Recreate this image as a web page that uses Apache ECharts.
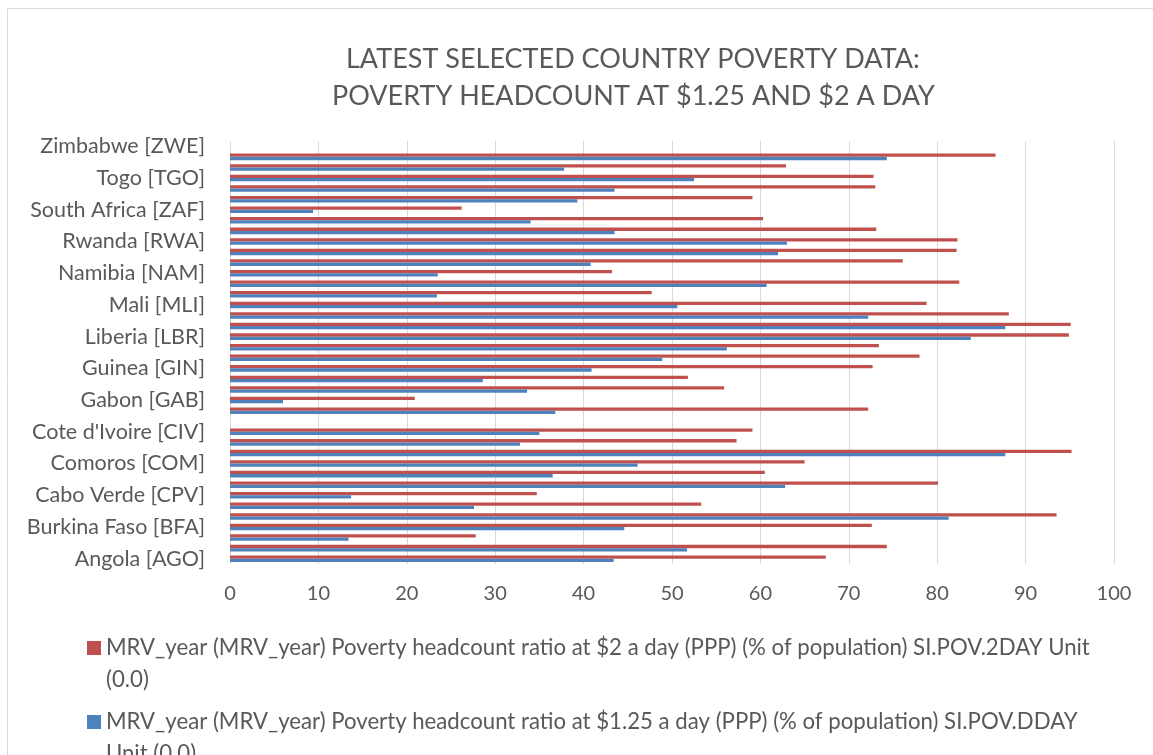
<!DOCTYPE html>
<html>
<head>
<meta charset="utf-8">
<script src="https://cdn.jsdelivr.net/npm/echarts@6/dist/echarts.min.js"></script>
<style>
html,body{margin:0;padding:0;background:#fff;}
#chart{width:1153px;height:755px;}
</style>
</head>
<body>
<div id="chart"></div>
<script>
var categories = [
  "Angola [AGO]", "Benin [BEN]", "Botswana [BWA]", "Burkina Faso [BFA]", "Burundi [BDI]",
  "Cameroon [CMR]", "Cabo Verde [CPV]", "Central African Republic [CAF]", "Chad [TCD]", "Comoros [COM]",
  "Congo, Dem. Rep. [COD]", "Congo, Rep. [COG]", "Cote d'Ivoire [CIV]", "Eritrea [ERI]", "Ethiopia [ETH]",
  "Gabon [GAB]", "Gambia, The [GMB]", "Ghana [GHA]", "Guinea [GIN]", "Guinea-Bissau [GNB]",
  "Lesotho [LSO]", "Liberia [LBR]", "Madagascar [MDG]", "Malawi [MWI]", "Mali [MLI]",
  "Mauritania [MRT]", "Mozambique [MOZ]", "Namibia [NAM]", "Niger [NER]", "Nigeria [NGA]",
  "Rwanda [RWA]", "Sao Tome and Principe [STP]", "Senegal [SEN]", "South Africa [ZAF]", "Swaziland [SWZ]",
  "Tanzania [TZA]", "Togo [TGO]", "Uganda [UGA]", "Zambia [ZMB]", "Zimbabwe [ZWE]"
];
var pov2day = [
  67.4, 74.3, 27.8, 72.6, 93.5,
  53.3, 34.7, 80.1, 60.5, 65.0,
  95.2, 57.3, 59.1, null, 72.2,
  20.9, 55.9, 51.8, 72.7, 78.0,
  73.4, 94.9, 95.1, 88.1, 78.8,
  47.7, 82.5, 43.2, 76.1, 82.2,
  82.3, 73.1, 60.3, 26.2, 59.1,
  73.0, 72.8, 62.9, 86.6, null
];
var pov125 = [
  43.4, 51.7, 13.4, 44.6, 81.3,
  27.6, 13.7, 62.8, 36.5, 46.1,
  87.7, 32.8, 35.0, null, 36.8,
  6.0, 33.6, 28.6, 40.9, 48.9,
  56.2, 83.8, 87.7, 72.2, 50.6,
  23.4, 60.7, 23.5, 40.8, 62.0,
  63.0, 43.5, 34.0, 9.4, 39.3,
  43.5, 52.5, 37.8, 74.3, null
];
var seriesNames = [
  "MRV_year (MRV_year) Poverty headcount ratio at $2 a day (PPP) (% of population) SI.POV.2DAY Unit (0.0)",
  "MRV_year (MRV_year) Poverty headcount ratio at $1.25 a day (PPP) (% of population) SI.POV.DDAY Unit (0.0)"
];
var xTicks = [0, 10, 20, 30, 40, 50, 60, 70, 80, 90, 100];
var titleLines = ["LATEST SELECTED COUNTRY POVERTY DATA:", "POVERTY HEADCOUNT AT $1.25 AND $2 A DAY"];

var FONT = "Lato";
var TITLE_SIZE = 27;
var TITLE_WEIGHT = 'normal';
var TITLE_CENTER_X = 633;

// measure each title line so it can be centred on the reference position
var mctx = document.createElement('canvas').getContext('2d');
mctx.font = TITLE_WEIGHT + ' ' + TITLE_SIZE + 'px ' + FONT;
function titleLeft(t) { return Math.round(TITLE_CENTER_X - mctx.measureText(t).width / 2); }
var titleStyle = {fontFamily: FONT, fontSize: TITLE_SIZE, fontWeight: TITLE_WEIGHT, color: '#595959', lineHeight: 37};

var chart = echarts.init(document.getElementById('chart'), null, {renderer: 'canvas'});
var legendIcon = 'path://M0,0L14,0L14,14L0,14Z M0,46L0.01,46';
function legendFmt(name) {
  if (name.indexOf('2DAY') >= 0) return name.replace(' (0.0)', '\n(0.0)');
  return name.replace(' Unit (0.0)', '\nUnit (0.0)');
}
var legendText = {fontFamily: FONT, fontSize: 22.2, color: '#595959', lineHeight: 32};
chart.setOption({
  animation: false,
  backgroundColor: '#ffffff',
  title: [{
    text: titleLines[0], left: titleLeft(titleLines[0]), top: 41, padding: 0, textStyle: titleStyle
  }, {
    text: titleLines[1], left: titleLeft(titleLines[1]), top: 78, padding: 0, textStyle: titleStyle
  }],
  graphic: [{
    type: 'rect',
    shape: {x: 7.5, y: 8.5, width: 1200, height: 800},
    style: {fill: 'none', stroke: '#d9d9d9', lineWidth: 1},
    silent: true
  }],
  grid: {left: 230, right: 39, top: 141, bottom: 191, containLabel: false},
  xAxis: {
    type: 'value',
    min: xTicks[0], max: xTicks[xTicks.length - 1], interval: 10,
    axisLine: {show: false},
    axisTick: {show: false},
    splitLine: {show: true, lineStyle: {color: '#d9d9d9', width: 1}},
    axisLabel: {fontFamily: FONT, fontSize: 20, color: '#595959', margin: 20}
  },
  yAxis: {
    type: 'category',
    data: categories,
    axisLine: {show: false},
    axisTick: {show: false},
    axisLabel: {interval: 2, fontFamily: FONT, fontSize: 21.5, color: '#595959', margin: 25}
  },
  legend: [{
    orient: 'vertical', left: 87, top: 632, padding: 0,
    itemWidth: 14, itemHeight: 46, icon: legendIcon,
    data: [seriesNames[0]], formatter: legendFmt, textStyle: legendText
  }, {
    orient: 'vertical', left: 87, top: 706, padding: 0,
    itemWidth: 14, itemHeight: 46, icon: legendIcon,
    data: [seriesNames[1]], formatter: legendFmt, textStyle: legendText
  }],
  series: [
    {
      name: seriesNames[0], type: 'bar', data: pov2day,
      barGap: '0%', barCategoryGap: '38%',
      itemStyle: {color: '#C0504D'}
    },
    {
      name: seriesNames[1], type: 'bar', data: pov125,
      barGap: '0%', barCategoryGap: '38%',
      itemStyle: {color: '#4F81BD'}
    }
  ]
});
</script>
</body>
</html>
